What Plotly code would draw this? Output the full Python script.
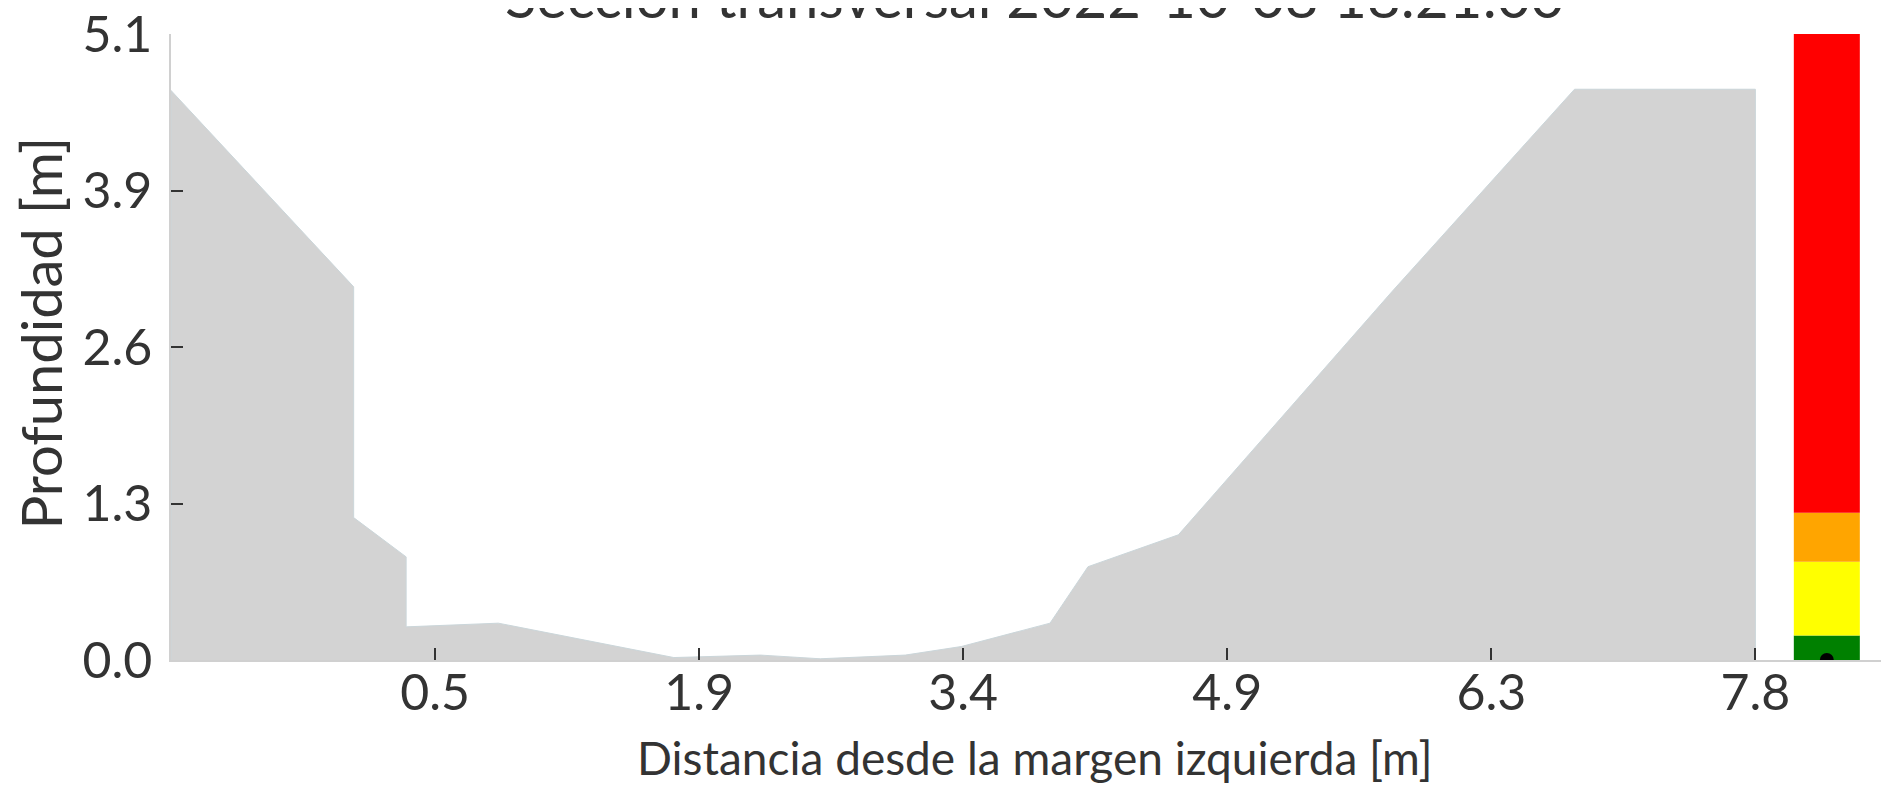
import plotly.graph_objects as go

# Cross-section profile (distance from left margin [m], depth [m])
dist = [-0.98, 0.03, 0.03, 0.32, 0.32, 0.83, 1.80, 2.28, 2.61, 3.08, 3.39,
        3.88, 4.09, 4.59, 5.77, 6.78, 7.78]
depth = [4.64, 3.04, 1.16, 0.84, 0.27, 0.30, 0.02, 0.04, 0.01, 0.04, 0.11,
         0.30, 0.76, 1.02, 3.00, 4.65, 4.65]

# Alert level bands (bottom/top limits) and colours
level_limits = [0.0, 0.2, 0.8, 1.2, 5.1]
level_colors = ["#008000", "#ffff00", "#ffa500", "#ff0000"]

# Current water level
water_level = [0.0]

# Tick labels
x_tick_vals = [0.48, 1.94, 3.40, 4.86, 6.32, 7.78]
x_tick_text = ["0.5", "1.9", "3.4", "4.9", "6.3", "7.8"]
y_tick_vals = [0.0, 1.275, 2.55, 3.825, 5.1]
y_tick_text = ["0.0", "1.3", "2.6", "3.9", "5.1"]

title_text = "Sección transversal 2022-10-08 18:21:00"
x_title = "Distancia desde la margen izquierda [m]"
y_title = "Profundidad [m]"

BAR_X = 8.175
BAR_W = 0.365
FONT = "Lato, 'Open Sans', sans-serif"
TXT = "#333333"

fig = go.Figure()

poly_x = [dist[0]] + dist + [dist[-1]]
poly_y = [0.0] + depth + [0.0]
fig.add_trace(go.Scatter(
    x=poly_x, y=poly_y, mode="lines", fill="toself",
    fillcolor="#d3d3d3", line=dict(color="#cbd6da", width=1),
    hoverinfo="skip", showlegend=False,
))

for i, col in enumerate(level_colors):
    lo, hi = level_limits[i], level_limits[i + 1]
    fig.add_trace(go.Bar(
        x=[BAR_X], y=[hi - lo], base=[lo], width=[BAR_W],
        marker=dict(color=col, line=dict(width=0)),
        showlegend=False, hoverinfo="skip",
    ))

fig.add_trace(go.Scatter(
    x=[BAR_X] * len(water_level), y=water_level, mode="markers",
    marker=dict(color="black", size=14), cliponaxis=True,
    showlegend=False, hoverinfo="skip",
))

fig.update_layout(
    width=1889, height=787,
    margin=dict(l=163, r=0, t=26, b=135, autoexpand=False),
    paper_bgcolor="white", plot_bgcolor="white",
    font=dict(family=FONT, color=TXT),
    barmode="overlay",
    showlegend=False,
    annotations=[
        dict(text=title_text, xref="paper", yref="paper", x=0.5, y=1,
             xanchor="center", yanchor="bottom", yshift=2, showarrow=False,
             font=dict(family=FONT, size=58, color=TXT)),
        dict(text=y_title, xref="paper", yref="paper", x=0, y=0.522,
             xanchor="center", yanchor="middle", xshift=-131,
             textangle=-90, showarrow=False,
             font=dict(family=FONT, size=56, color=TXT)),
        dict(text=x_title, xref="paper", yref="paper", x=0.5, y=0,
             xanchor="center", yanchor="top", yshift=-68,
             showarrow=False,
             font=dict(family=FONT, size=46, color=TXT)),
    ],
)

fig.update_xaxes(
    range=[-0.98, 8.563], showgrid=False, zeroline=False, automargin=False,
    showline=True, linecolor="#d0d0d0", linewidth=1.5,
    tickmode="array", tickvals=x_tick_vals, ticktext=x_tick_text,
    ticks="inside", ticklen=12, tickwidth=1.5, tickcolor="#333333",
    tickfont=dict(family=FONT, size=50, color=TXT),
    ticklabelstandoff=-12, ticklabeloverflow="allow",
)
fig.update_yaxes(
    range=[0, 5.1], showgrid=False, zeroline=False, automargin=False,
    showline=True, linecolor="#d0d0d0", linewidth=1.5,
    tickmode="array", tickvals=y_tick_vals, ticktext=y_tick_text,
    ticks="inside", ticklen=12, tickwidth=1.5, tickcolor="#333333",
    tickfont=dict(family=FONT, size=50, color=TXT),
    ticklabelstandoff=7, ticklabeloverflow="allow",
)

fig.write_html("out.html")
